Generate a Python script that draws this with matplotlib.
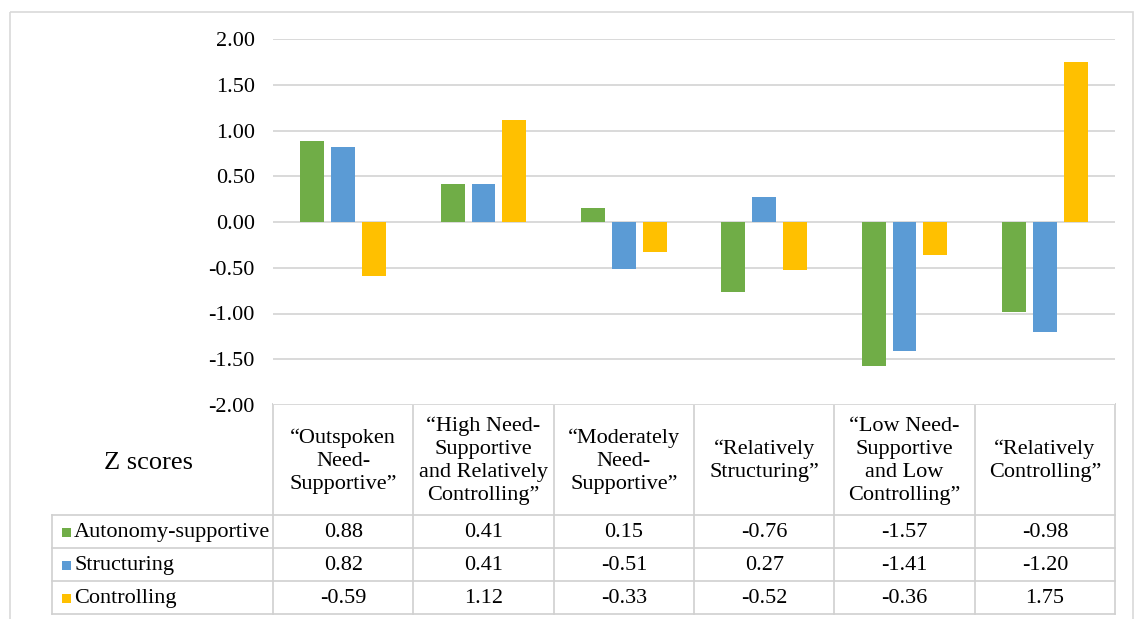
import numpy as np
import matplotlib.pyplot as plt
from matplotlib.patches import Rectangle

# DATA
categories = [
    "\u201cOutspoken\nNeed-\nSupportive\u201d",
    "\u201cHigh Need-\nSupportive\nand Relatively\nControlling\u201d",
    "\u201cModerately\nNeed-\nSupportive\u201d",
    "\u201cRelatively\nStructuring\u201d",
    "\u201cLow Need-\nSupportive\nand Low\nControlling\u201d",
    "\u201cRelatively\nControlling\u201d",
]
series_names = ["Autonomy-supportive", "Structuring", "Controlling"]
autonomy = [0.88, 0.41, 0.15, -0.76, -1.57, -0.98]
structuring = [0.82, 0.41, -0.51, 0.27, -1.41, -1.20]
controlling = [-0.59, 1.12, -0.33, -0.52, -0.36, 1.75]
y_ticks = [2.0, 1.5, 1.0, 0.5, 0.0, -0.5, -1.0, -1.5, -2.0]
table_title = "Z scores"

series_values = [autonomy, structuring, controlling]
colors = ["#70AD47", "#5B9BD5", "#FFC000"]
grid_col = "#D9D9D9"

plt.rcParams["font.family"] = ["Liberation Serif", "DejaVu Serif"]

W, H = 1135, 619
fig = plt.figure(figsize=(W / 100, H / 100), dpi=100)

# pixel layout
px_left, px_right = 273, 1115
px_top, px_zero_bottom = 39, 405
row_edges = [404, 515, 548, 581, 614]
legend_left = 52

# BAR AXES
ax = fig.add_axes([px_left / W, 1 - px_zero_bottom / H,
                   (px_right - px_left) / W, (px_zero_bottom - px_top) / H])
x = np.arange(len(categories))
bar_w = 0.171
step = 0.219
for i, (vals, col) in enumerate(zip(series_values, colors)):
    ax.bar(x + (i - 1) * step, vals, width=bar_w, color=col, zorder=3)

ax.set_xlim(-0.5, len(categories) - 0.5)
ax.set_ylim(-2, 2)
ax.set_yticks(y_ticks)
ax.set_yticklabels([f"{v:.2f}" for v in y_ticks], fontsize=16)
ax.set_xticks([])
ax.tick_params(axis="y", length=0, pad=13)
for s in ax.spines.values():
    s.set_visible(False)
ax.grid(axis="y", color=grid_col, linewidth=1.4, zorder=0)

# TABLE (drawn in pixel coordinates on an overlay axes)
tab = fig.add_axes([0, 0, 1, 1], zorder=-1)
tab.set_xlim(0, W)
tab.set_ylim(H, 0)
tab.axis("off")

# outer chart frame
tab.add_patch(Rectangle((10, 12), 1123, 640, fill=False,
                        edgecolor="#D9D9D9", linewidth=1.2))

col_edges = np.linspace(px_left, px_right, len(categories) + 1)
lc = "#D0D0D0"
lw = 1.2

# header horizontal line and vertical lines
tab.plot([px_left, px_right], [row_edges[0]] * 2, color=lc, lw=lw)
for xe in col_edges:
    tab.plot([xe, xe], [row_edges[0], row_edges[-1]], color=lc, lw=lw)
# data row lines
for ye in row_edges[1:]:
    tab.plot([legend_left, px_right], [ye, ye], color=lc, lw=lw)
tab.plot([legend_left, legend_left], [row_edges[1], row_edges[-1]], color=lc, lw=lw)

# header text
hdr_mid = 461
for j, cat in enumerate(categories):
    cx = (col_edges[j] + col_edges[j + 1]) / 2
    tab.text(cx, hdr_mid, cat, ha="center", va="center", fontsize=16,
             linespacing=1.28)

tab.text(148, 463, table_title, ha="center", va="center", fontsize=19)

# data rows
for i, (name, vals, col) in enumerate(zip(series_names, series_values, colors)):
    cy = (row_edges[i + 1] + row_edges[i + 2]) / 2
    tab.add_patch(Rectangle((62, cy - 4), 9, 9, color=col, lw=0))
    tab.text(74, cy + 1, name, ha="left", va="center", fontsize=16)
    for j, v in enumerate(vals):
        cx = (col_edges[j] + col_edges[j + 1]) / 2
        tab.text(cx, cy + 1, f"{v:.2f}", ha="center", va="center", fontsize=16)

fig.savefig("out.png", dpi=100)
